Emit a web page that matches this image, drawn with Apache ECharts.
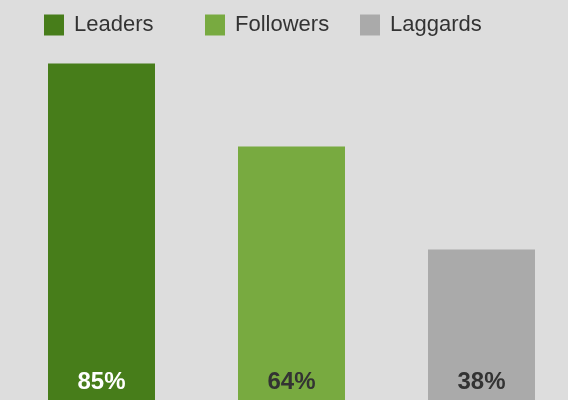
<!DOCTYPE html>
<html><head><meta charset="utf-8">
<script src="https://cdn.jsdelivr.net/npm/echarts@6/dist/echarts.min.js"></script>
<style>html,body{margin:0;padding:0;background:#dddddd}#c{width:568px;height:400px}</style>
</head><body><div id="c"></div>
<script>
const categories = ['Leaders', 'Followers', 'Laggards'];
const values = [85, 64, 38];
const colors = ['#477d1a', '#78aa40', '#aaaaaa'];
const labelColors = ['#ffffff', '#333333', '#333333'];
const legendLeft = [44, 205, 360];

const chart = echarts.init(document.getElementById('c'));
const series = categories.map((name, i) => ({
  name: name,
  type: 'bar',
  stack: 'all',
  barWidth: 107,
  data: values.map((v, j) => (j === i ? v : '-')),
  itemStyle: { color: colors[i] },
  label: {
    show: true,
    position: 'insideBottom',
    distance: 6,
    formatter: '{c}%',
    color: labelColors[i],
    fontSize: 24,
    fontWeight: 'bold',
    fontFamily: 'Liberation Sans, Arial, sans-serif'
  }
}));
const legends = categories.map((name, i) => ({
  data: [name],
  left: legendLeft[i],
  top: 14,
  padding: 0,
  itemWidth: 20,
  itemHeight: 21,
  icon: 'rect',
  selectedMode: false,
  textStyle: { fontSize: 22, color: '#333333', fontFamily: 'Liberation Sans, Arial, sans-serif', padding: [2, 0, 0, 5] }
}));
chart.setOption({
  backgroundColor: '#dddddd',
  animation: false,
  legend: legends,
  grid: { left: 101.5, right: 86.5, top: 4, bottom: 0 },
  xAxis: { type: 'category', data: categories, show: false, boundaryGap: false },
  yAxis: { type: 'value', min: 0, max: 100, show: false },
  series: series
});
</script></body></html>
